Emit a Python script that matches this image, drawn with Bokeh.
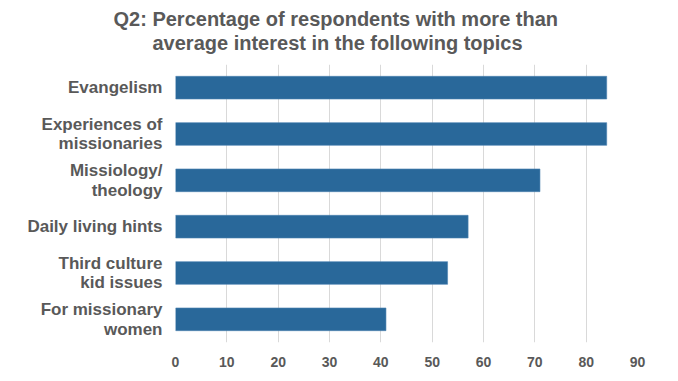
from bokeh.plotting import figure
from bokeh.models import Range1d, FactorRange, FixedTicker, Title
from bokeh.embed import file_html
from bokeh.resources import INLINE

# ---- data ----
topics = [
    "Evangelism",
    "Experiences of\nmissionaries",
    "Missiology/\ntheology",
    "Daily living hints",
    "Third culture\nkid issues",
    "For missionary\nwomen",
]
percent = [84, 84, 71, 57, 53, 41]
x_ticks = [0, 10, 20, 30, 40, 50, 60, 70, 80, 90]
title_line1 = "Q2: Percentage of respondents with more than"
title_line2 = "average interest in the following topics"

TEXT = "#595959"
FONT = "Liberation Sans"

p = figure(
    width=662, height=365,
    frame_width=462, frame_height=278,
    y_range=FactorRange(factors=list(reversed(topics)), range_padding=0),
    x_range=Range1d(0, 90),
    output_backend="svg", toolbar_location=None,
    min_border_left=175, min_border_right=25,
    min_border_top=64, min_border_bottom=23,
    title=None,
)

p.hbar(y=topics, right=percent, left=0, height=0.49,
       fill_color="#29689A", line_color="#4C82B0", line_width=0.6)

# titles (spacer nearest the frame, then line 2, then line 1)
spacer = Title(text=" ", text_font_size="1px", standoff=8)
t2 = Title(text=title_line2, align="left", offset=-23, standoff=0,
           text_font=FONT, text_font_size="20px", text_font_style="bold",
           text_color=TEXT)
t1 = Title(text=title_line1, align="left", offset=-62, standoff=0,
           text_font=FONT, text_font_size="20px", text_font_style="bold",
           text_color=TEXT)
p.add_layout(spacer, "above")
p.add_layout(t2, "above")
p.add_layout(t1, "above")

# axes
p.xaxis.ticker = FixedTicker(ticks=x_ticks)
p.xaxis.axis_line_color = None
p.xaxis.major_tick_line_color = None
p.xaxis.minor_tick_line_color = None
p.xaxis.major_label_standoff = 8
p.xaxis.major_label_text_font = FONT
p.xaxis.major_label_text_font_size = "14px"
p.xaxis.major_label_text_font_style = "bold"
p.xaxis.major_label_text_color = TEXT

p.yaxis.axis_line_color = None
p.yaxis.major_tick_line_color = None
p.yaxis.minor_tick_line_color = None
p.yaxis.major_label_standoff = 7
p.yaxis.major_label_text_font = FONT
p.yaxis.major_label_text_font_size = "17px"
p.yaxis.major_label_text_font_style = "bold"
p.yaxis.major_label_text_color = TEXT
p.yaxis.major_label_text_line_height = 1.05

# grid
p.xgrid.grid_line_color = "#D9D9D9"
p.xgrid.grid_line_width = 1
p.ygrid.grid_line_color = None
p.outline_line_color = None
p.background_fill_color = "white"
p.border_fill_color = "white"

open("out.html", "w").write(file_html(p, INLINE))
